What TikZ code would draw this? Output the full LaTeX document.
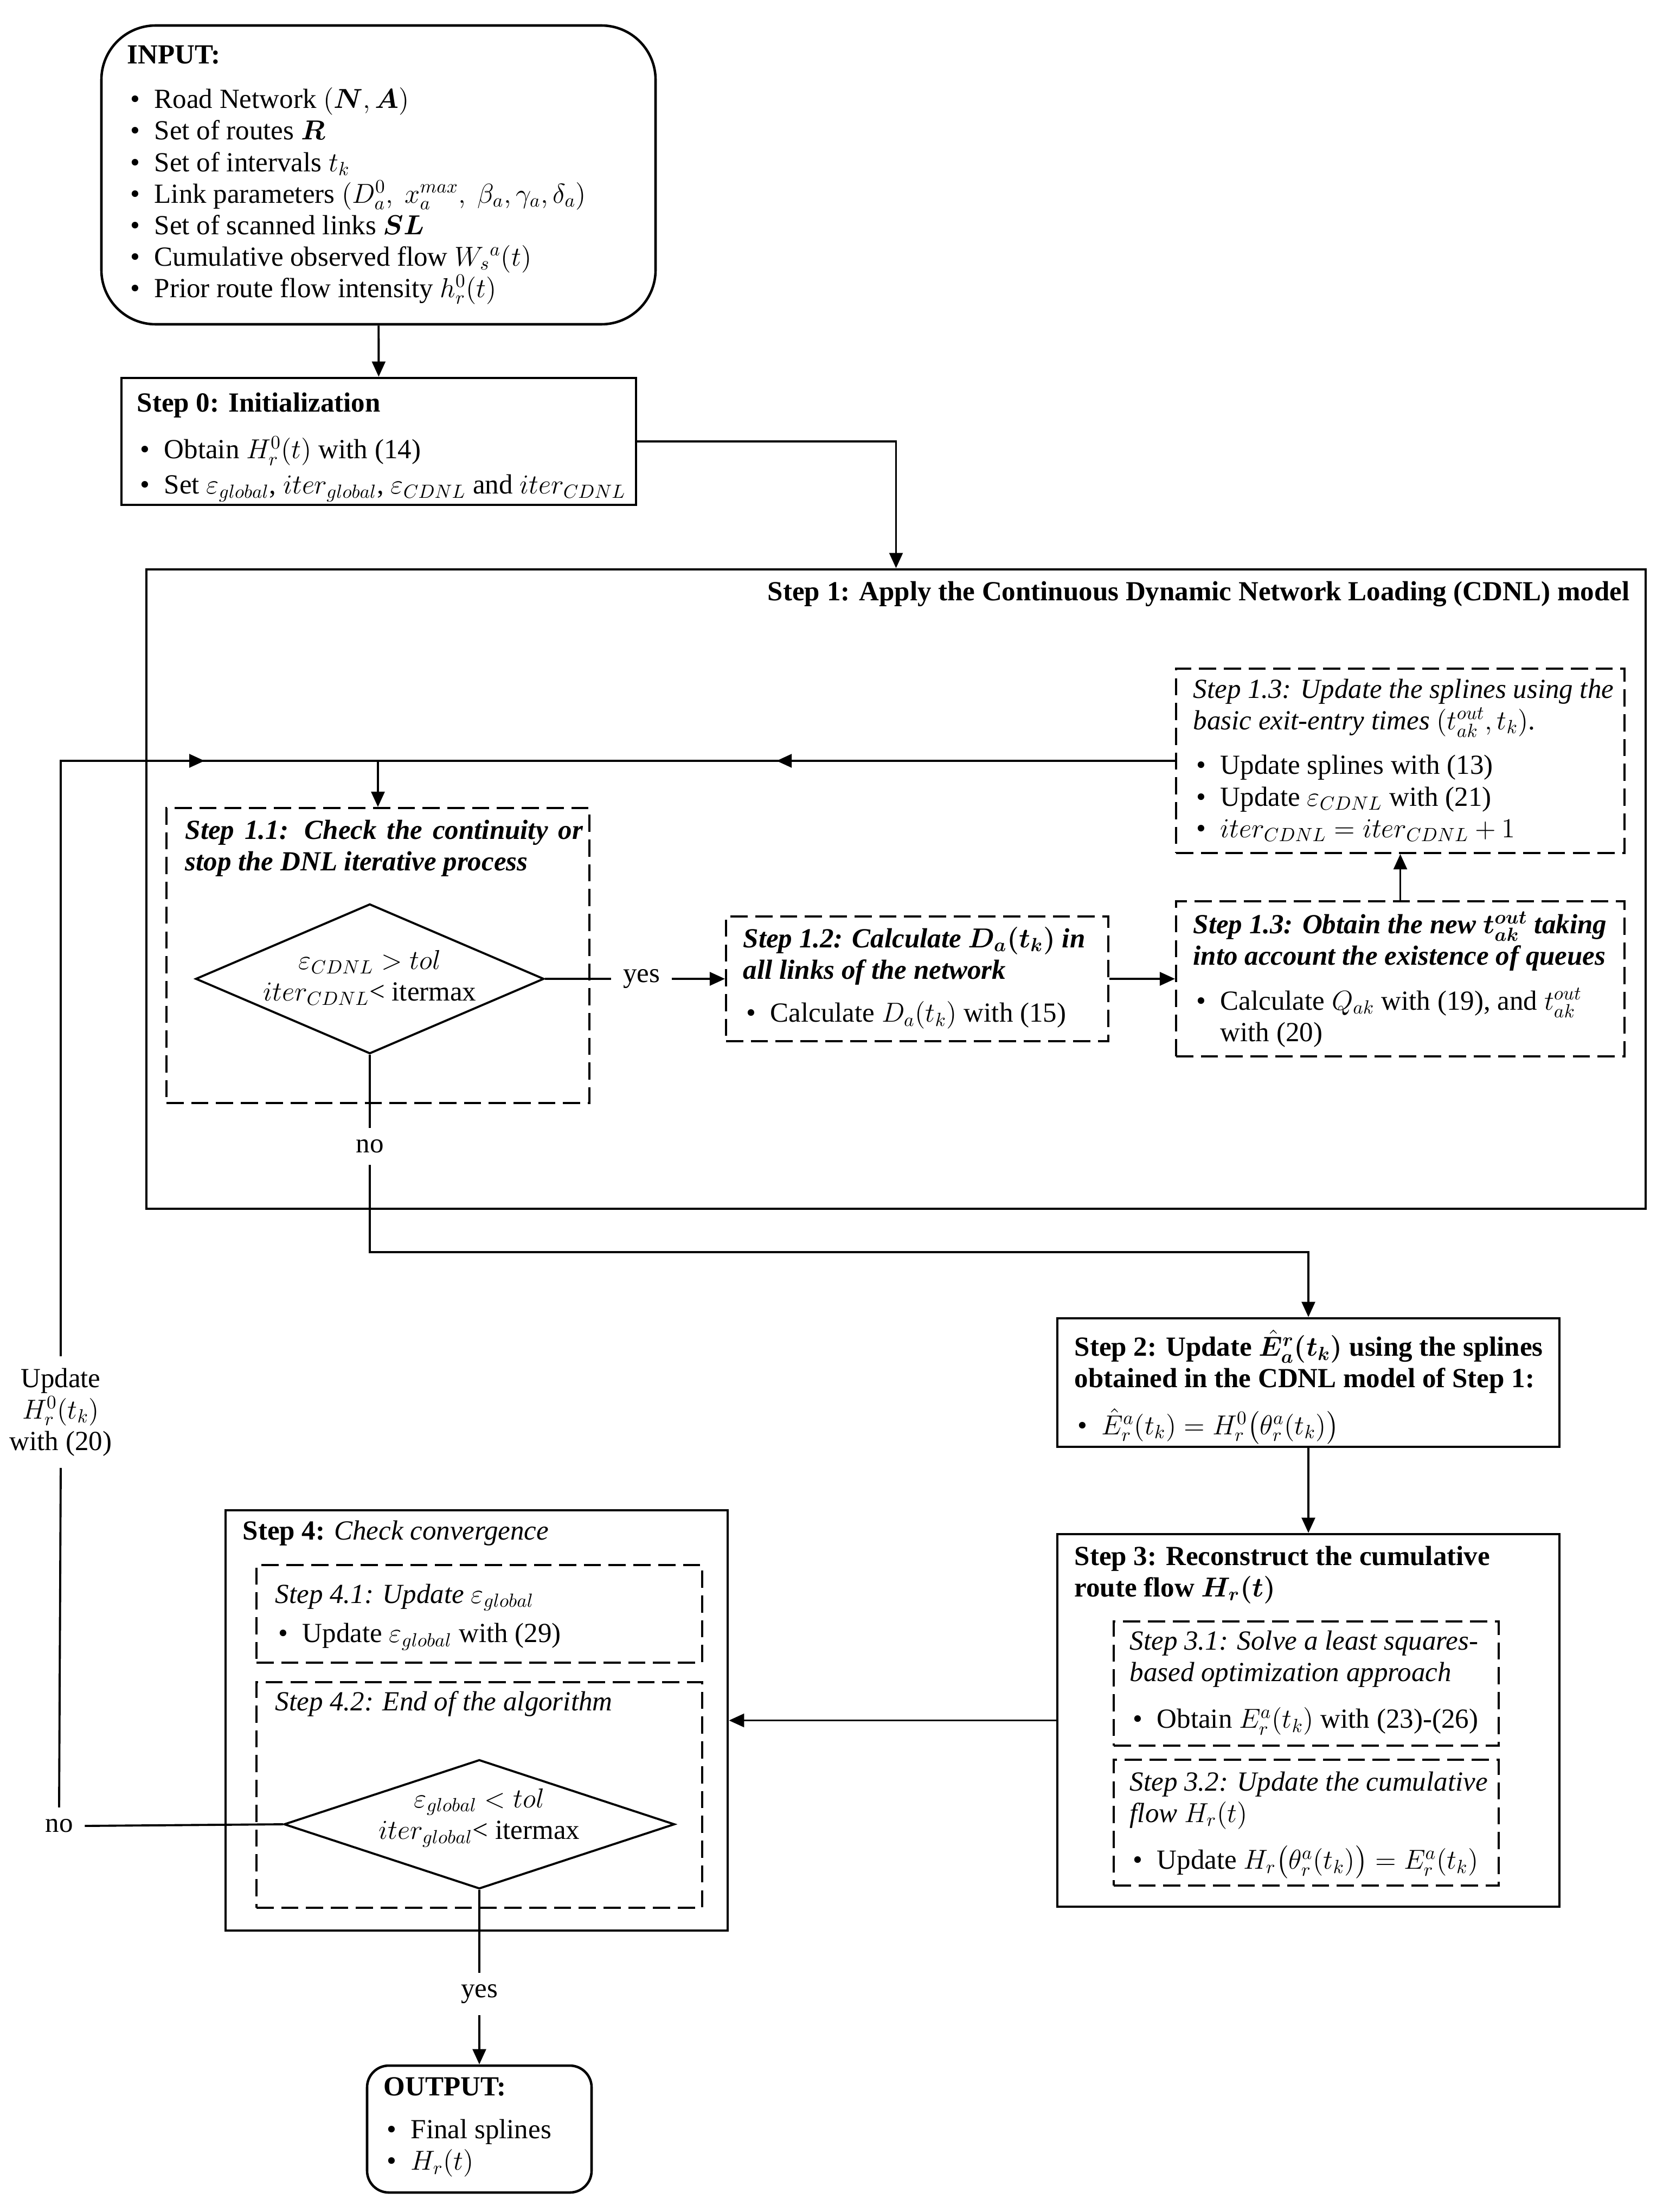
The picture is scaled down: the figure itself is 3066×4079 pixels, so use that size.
\documentclass[tikz,border=0pt]{standalone}
\usepackage{fontspec}
\setmainfont{Liberation Serif}
\usepackage{amsmath}
\usepackage{bm}
\usetikzlibrary{positioning, calc, arrows.meta, fit, shapes.geometric, decorations.markings}

\newcommand{\fs}{\fontsize{14.5pt}{16.5pt}\selectfont}
\newcommand{\itm}{\makebox[0.5cm][l]{\hspace{0.06cm}\textbullet}}
\setlength{\lineskiplimit}{-30pt}

\begin{document}
\begin{tikzpicture}[x=0.01cm, y=-0.01cm,
    box/.style={draw, line width=1.3pt, inner sep=0pt},
    subbox/.style={draw, line width=1.1pt, dash pattern=on 9pt off 4pt, inner sep=0pt},
    txt/.style={font=\fs, align=left, inner sep=0pt, anchor=north west},
    decision/.style={draw, diamond, line width=1.1pt, inner sep=0pt},
    dtxt/.style={font=\fs, align=center, inner sep=0pt},
    lbl/.style={font=\fs, inner sep=6pt},
    line/.style={line width=1.1pt},
    arr/.style={line width=1.1pt, -{Triangle[length=8pt, width=7pt]}},
    midarr/.style={line width=1.1pt, postaction={decorate},
        decoration={markings, mark=at position #1 with {\arrow{Triangle[length=8pt, width=7pt]}}}}
]

    \useasboundingbox (0,0) rectangle (3066,4079);

    % Input data
    \node[box, rounded corners=1cm, fit={(187,47) (1209,598)}] (input) {};
    \node[txt] (input-t) at (234,76) {\strut\textbf{INPUT:}\\[7pt]
        \itm Road Network $(\bm{N},\bm{A})$\\
        \itm Set of routes $\bm{R}$\\
        \itm Set of intervals $t_k$\\
        \itm Link parameters $(D_a^0,\ x_a^{max},\ \beta_a, \gamma_a, \delta_a)$\\
        \itm Set of scanned links $\bm{SL}$\\
        \itm Cumulative observed flow $W_s{}^a(t)$\\
        \itm Prior route flow intensity $h_r^0(t)$};

    % Step 0
    \node[box, fit={(224,697) (1173,931)}] (init) {};
    \node[txt] (init-t) at (252,718) {\strut\textbf{Step 0: Initialization}\\[8pt]
        \itm Obtain $H_r^0(t)$ with (14)\\[2pt]
        \itm Set $\varepsilon_{global}$, $iter_{global}$, $\varepsilon_{CDNL}$ and $iter_{CDNL}$};

    % Step 1: CDNL model
    \node[box, fit={(270,1050) (3035,2229)}] (step1) {};
    \node[txt, anchor=north east] (step1-t) at (3006,1066)
        {\strut\textbf{Step 1: Apply the Continuous Dynamic Network Loading (CDNL) model}};

    % Step 1.3 (splines)
    \node[subbox, fit={(2169,1233) (2996,1573)}] (upd) {};
    \node[txt] (upd-t) at (2200,1246) {\strut\makebox[7.75cm][s]{\itshape Step 1.3: Update the splines using the}\\
        \textit{basic exit-entry times} $(t_{ak}^{out}, t_k)$.\\[7pt]
        \itm Update splines with (13)\\
        \itm Update $\varepsilon_{CDNL}$ with (21)\\
        \itm $iter_{CDNL} = iter_{CDNL} + 1$};

    % Step 1.1
    \node[subbox, fit={(307,1490) (1087,2034)}] (chk) {};
    \node[txt] (chk-t) at (341,1506) {\strut\makebox[7.33cm][s]{\bfseries\itshape Step 1.1: Check the continuity or}\\
        \textbf{\textit{stop the DNL iterative process}}};
    \node[decision, minimum width=6.42cm, minimum height=2.76cm] (dnl) at (682,1805) {};
    \node[dtxt] (dnl-t) at (682,1803) {$\varepsilon_{CDNL} > tol$\\$iter_{CDNL}$< itermax};

    % Step 1.2
    \node[subbox, fit={(1339,1690) (2044,1920)}] (calc) {};
    \node[txt] (calc-t) at (1370,1706) {\strut\textbf{\textit{Step 1.2: Calculate $\bm{D_a(t_k)}$ in}}\\
        \textbf{\textit{all links of the network}}\\[6pt]
        \itm Calculate $D_a(t_k)$ with (15)};

    % Step 1.3 (queues)
    \node[subbox, fit={(2169,1662) (2996,1948)}] (que) {};
    \node[txt] (que-t) at (2200,1680) {\strut\makebox[7.62cm][s]{\bfseries\itshape Step 1.3: Obtain the new $\bm{t_{ak}^{out}}$ taking}\\
        \textbf{\textit{into account the existence of queues}}\\[7pt]
        \itm Calculate $Q_{ak}$ with (19), and $t_{ak}^{out}$\\
        \hspace*{0.5cm}with (20)};

    % Step 2
    \node[box, fit={(1950,2431) (2876,2668)}] (step2) {};
    \node[txt] (step2-t) at (1981,2452) {\strut\textbf{Step 2: Update $\bm{\hat{E}_a^r(t_k)}$ using the splines}\\
        \textbf{obtained in the CDNL model of Step 1:}\\[8pt]
        \itm $\hat{E}_r^a(t_k) = H_r^0\big(\theta_r^a(t_k)\big)$};

    % Step 3
    \node[box, fit={(1950,2829) (2876,3516)}] (step3) {};
    \node[txt] (step3-t) at (1981,2845) {\strut\textbf{Step 3: Reconstruct the cumulative}\\
        \textbf{route flow $\bm{H_r(t)}$}};
    \node[subbox, fit={(2054,2990) (2764,3219)}] (s31) {};
    \node[txt] (s31-t) at (2083,3001) {\strut\textit{Step 3.1: Solve a least squares-}\\
        \textit{based optimization approach}\\[8pt]
        \itm Obtain $E_r^a(t_k)$ with (23)-(26)};
    \node[subbox, fit={(2054,3245) (2764,3477)}] (s32) {};
    \node[txt] (s32-t) at (2083,3261) {\strut\textit{Step 3.2: Update the cumulative}\\
        \textit{flow} $H_r(t)$\\[8pt]
        \itm Update $H_r\big(\theta_r^a(t_k)\big) = E_r^a(t_k)$};

    % Step 4
    \node[box, fit={(416,2785) (1342,3560)}] (step4) {};
    \node[txt] (step4-t) at (447,2798) {\strut\textbf{Step 4:} \textit{Check convergence}};
    \node[subbox, fit={(473,2886) (1295,3066)}] (s41) {};
    \node[txt] (s41-t) at (507,2915) {\strut\textit{Step 4.1: Update} $\varepsilon_{global}$\\[4pt]
        \itm Update $\varepsilon_{global}$ with (29)};
    \node[subbox, fit={(473,3102) (1295,3518)}] (s42) {};
    \node[txt] (s42-t) at (507,3113) {\strut\textit{Step 4.2: End of the algorithm}};
    \node[decision, minimum width=7.2cm, minimum height=2.38cm] (conv) at (884,3364) {};
    \node[dtxt] (conv-t) at (884,3352) {$\varepsilon_{global} < tol$\\$iter_{global}$< itermax};

    % Output
    \node[box, rounded corners=0.4cm, fit={(677,3809) (1091,4043)}] (output) {};
    \node[txt] (output-t) at (707,3823) {\strut\textbf{OUTPUT:}\\[6pt]
        \itm Final splines\\
        \itm $H_r(t)$};

    % Branch labels
    \node[lbl] (yes1) at (1183,1805) {yes};
    \node[lbl] (no1) at (682,2114) {no};
    \node[lbl] (yes2) at (884,3677) {yes};
    \node[lbl] (no2) at (109,3367) {no};
    \node[lbl, align=center] (upd20) at (112,2604) {Update\\$H_r^0(t_k)$\\with (20)};

    % Corner points
    \coordinate (join) at (chk.north |- upd.west);
    \coordinate (loopc) at (upd20.north |- join);
    \coordinate (bend1) at (682,2309);

    % Connectors
    \draw[arr] (input) -- (init);
    \draw[arr] (init.east) -| (step1.north);
    \draw[midarr=0.5] (upd.west) -- (join);
    \draw[arr] (join) -- (chk.north);
    \draw[line] (dnl.east) -- (yes1.west);
    \draw[arr] (yes1.east) -- (calc.west);
    \draw[arr] (calc) -- (que);
    \draw[arr] (que) -- (upd);
    \draw[line] (dnl.south) -- (no1.north);
    \draw[arr] (no1.south) -- (bend1) -| (step2.north);
    \draw[arr] (step2) -- (step3);
    \draw[arr] (step3) -- (step4);
    \draw[line] (conv.south) -- (yes2.north);
    \draw[arr] (yes2.south) -- (output.north);
    \draw[line] (conv.west) -- (no2.east);
    \draw[line] (no2.north) -- (upd20.south);
    \draw[midarr=0.81] (upd20.north) -- (loopc) -- (join);

\end{tikzpicture}
\end{document}
